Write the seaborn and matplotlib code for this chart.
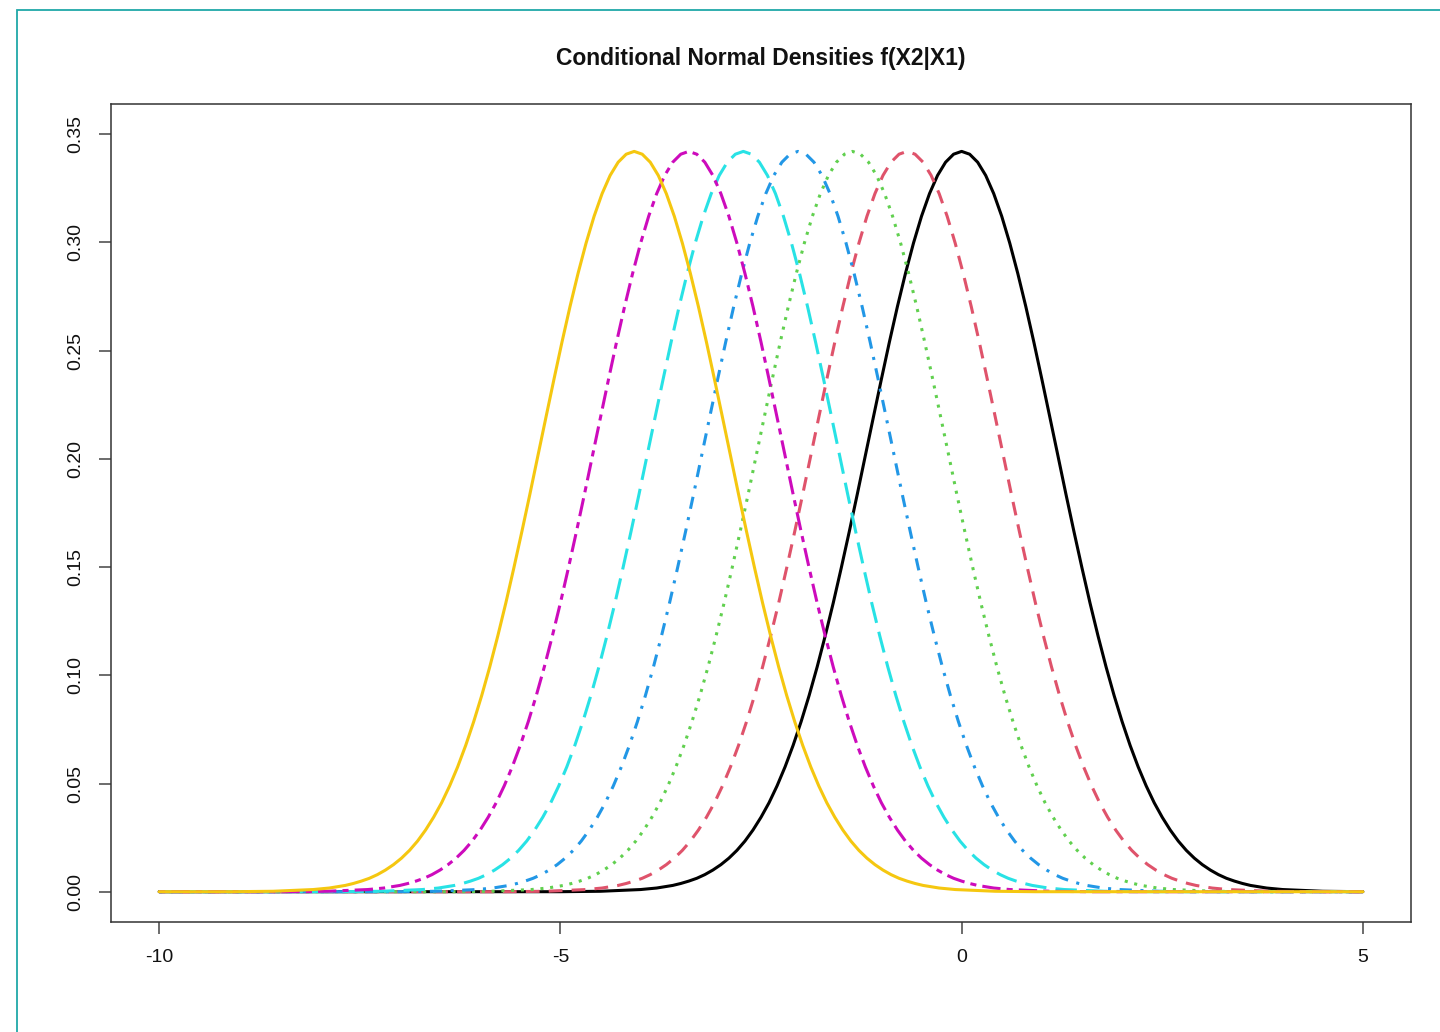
import matplotlib.pyplot as plt
import numpy as np
import pandas as pd
import seaborn as sns
from matplotlib.patches import Rectangle


# Centres of the seven conditional densities (read from the peaks)
CURVE_NAMES = ["c1", "c2", "c3", "c4", "c5", "c6", "c7"]
CURVE_MEANS = [0.0, -0.68, -1.36, -2.04, -2.72, -3.40, -4.08]
CURVE_COLORS = ["#000000", "#DF536B", "#61D04F", "#2297E6", "#28E2E5", "#CD0BBC", "#F5C710"]

# Shared density profile (offset from centre -> height)
PROFILE_OFFSETS = [0.0, 0.1, 0.2, 0.3, 0.4, 0.5, 0.6, 0.7, 0.8, 0.9, 1.0,
                   1.1, 1.2, 1.3, 1.4, 1.5, 1.6, 1.7, 1.8, 1.9, 2.0,
                   2.1, 2.2, 2.3, 2.4, 2.5, 2.6, 2.7, 2.8, 2.9, 3.0,
                   3.1, 3.2, 3.3, 3.4, 3.5, 3.6, 3.8, 4.0, 4.5, 5.0]
PROFILE_HEIGHTS = [0.3421, 0.3408, 0.3371, 0.3310, 0.3226, 0.3121, 0.2997, 0.2857,
                   0.2704, 0.2540, 0.2368, 0.2192, 0.2015, 0.1837, 0.1664, 0.1496,
                   0.1334, 0.1182, 0.1039, 0.0907, 0.0786, 0.0676, 0.0577, 0.0489,
                   0.0411, 0.0344, 0.0285, 0.0234, 0.0191, 0.0155, 0.0125, 0.0100,
                   0.0079, 0.0062, 0.0049, 0.0038, 0.0029, 0.0017, 0.0010, 0.0002,
                   0.0000]

X_RANGE = [-10, 5]
X_TICKS = [-10, -5, 0, 5]
Y_TICKS = [0.00, 0.05, 0.10, 0.15, 0.20, 0.25, 0.30, 0.35]

TITLE = "Conditional Normal Densities f(X2|X1)"

# R line types: solid, dashed, dotted, dotdash, longdash, twodash, solid
CURVE_DASHES = ["", (4.5, 3), (1, 2.2), (1, 2.8, 4, 2.8), (7, 3), (2, 2, 6, 2), ""]


def build_table() -> pd.DataFrame:
    offsets = np.array(PROFILE_OFFSETS)
    heights = np.array(PROFILE_HEIGHTS)
    rows = []
    for name, mean in zip(CURVE_NAMES, CURVE_MEANS):
        xs = np.concatenate([[X_RANGE[0]], mean - offsets[::-1], mean + offsets[1:], [X_RANGE[1]]])
        ys = np.concatenate([[0.0], heights[::-1], heights[1:], [0.0]])
        keep = (xs >= X_RANGE[0]) & (xs <= X_RANGE[1])
        xs, ys = xs[keep], ys[keep]
        order = np.argsort(xs, kind="stable")
        for x, y in zip(xs[order], ys[order]):
            rows.append({"curve": name, "x": x, "y": y})
    return pd.DataFrame(rows)


def main() -> None:
    sns.set_theme(style="ticks")
    plt.rcParams["font.family"] = ["Liberation Sans", "DejaVu Sans"]

    df = build_table()

    fig = plt.figure(figsize=(14.4, 10.32), dpi=100)
    ax = fig.add_axes([111 / 1440, 1 - 922 / 1032, 1300 / 1440, 818 / 1032])

    sns.lineplot(
        data=df,
        x="x",
        y="y",
        hue="curve",
        style="curve",
        hue_order=CURVE_NAMES,
        style_order=CURVE_NAMES,
        palette=dict(zip(CURVE_NAMES, CURVE_COLORS)),
        dashes=dict(zip(CURVE_NAMES, CURVE_DASHES)),
        estimator=None,
        sort=False,
        linewidth=2.2,
        legend=False,
        ax=ax,
    )

    ax.set_xlim(-10.6, 5.6)
    ax.set_ylim(-0.014, 0.364)
    ax.set_xticks(X_TICKS)
    ax.set_xticklabels([str(t) for t in X_TICKS])
    ax.set_yticks(Y_TICKS)
    ax.set_yticklabels([f"{t:.2f}" for t in Y_TICKS], rotation=90, va="center")
    ax.tick_params(axis="both", direction="out", length=8.6, width=1.1,
                   color="#444444", labelsize=14, labelcolor="#111111", pad=11)
    ax.set_xlabel("")
    ax.set_ylabel("")
    for spine in ax.spines.values():
        spine.set_visible(True)
        spine.set_color("#333333")
        spine.set_linewidth(1.1)

    fig.text(761 / 1440, 1 - 58 / 1032, TITLE, ha="center", va="center",
             fontsize=16.5, fontweight="bold", color="#111111")

    # teal frame of the surrounding window
    fig.patches.append(Rectangle((17 / 1440, -0.1), 1.2, 1 - 10 / 1032 + 0.1,
                                 transform=fig.transFigure, fill=False,
                                 edgecolor="#20A8A8", linewidth=1.3))

    fig.savefig("out.png", dpi=100)
    plt.close(fig)


if __name__ == "__main__":
    main()
